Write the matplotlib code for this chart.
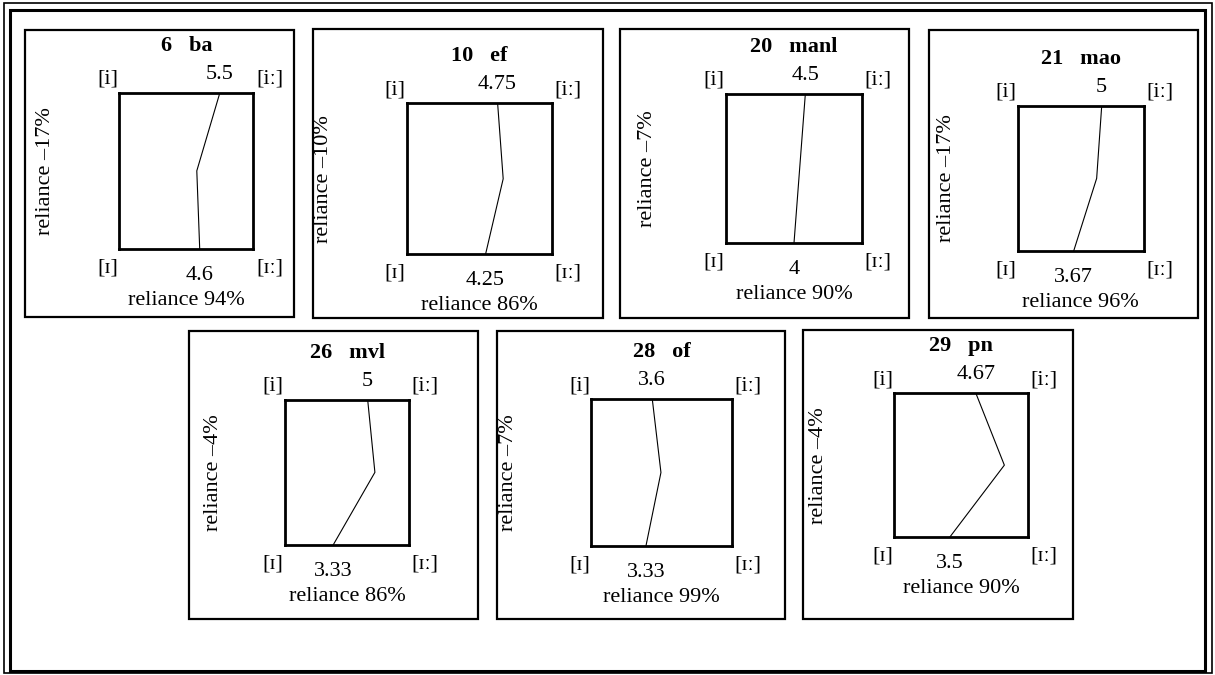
import matplotlib
matplotlib.use("Agg")
import matplotlib.pyplot as plt
from matplotlib.patches import Rectangle

plt.rcParams['font.family'] = ['Liberation Serif', 'DejaVu Serif']

W, H = 1215, 675
PX = 72 / 100  # pixels -> points at dpi 100

# data (vowel scale 1..7)
ids = [6, 10, 20, 21, 26, 28, 29]
words = ["ba", "ef", "manl", "mao", "mvl", "of", "pn"]
top_vals = [5.5, 4.75, 4.5, 5, 5, 3.6, 4.67]
mid_vals = [4.47, 4.98, 4.25, 4.76, 5.35, 3.97, 5.95]
bottom_vals = [4.6, 4.25, 4, 3.67, 3.33, 3.33, 3.5]
reliance_side = [-17, -10, -7, -17, -4, -7, -4]
reliance_bottom = [94, 86, 90, 96, 86, 99, 90]

# layout in pixels: panel box, inner square, distance of side label
boxes = [(25, 30, 294, 317), (313, 29, 603, 318), (620, 29, 909, 318),
         (929, 30, 1198, 318), (189, 331, 478, 619), (497, 331, 785, 619),
         (803, 330, 1073, 619)]
squares = [(119.3, 93, 253.3, 248.7), (407, 103.3, 552, 254.3),
           (726, 94, 862, 243), (1017.7, 106, 1143.7, 250.7),
           (285, 399.7, 409, 545), (591.3, 399, 732, 546),
           (894.3, 393.3, 1027.7, 537)]
side_dx = [74, 84, 78, 71, 72, 83, 76]

fig = plt.figure(figsize=(W / 100, H / 100), dpi=100)
bg = fig.add_axes([0, 0, 1, 1])
bg.set_xlim(0, W)
bg.set_ylim(H, 0)
bg.axis('off')

# double outer frame
bg.add_patch(Rectangle((4, 3), W - 7, H - 5, fill=False, lw=1.2, ec='k'))
bg.add_patch(Rectangle((10, 10), W - 20, H - 14, fill=False, lw=2.2, ec='k'))

for b in boxes:
    bg.add_patch(Rectangle((b[0], b[1]), b[2] - b[0], b[3] - b[1],
                           fill=False, lw=1.6, ec='k'))

fs = 16
for i in range(len(ids)):
    x0, y0, x1, y1 = squares[i]
    ax = fig.add_axes([x0 / W, 1 - y1 / H, (x1 - x0) / W, (y1 - y0) / H])
    ax.set_xlim(1, 7)
    ax.set_ylim(0, 2)
    ax.set_xticks([])
    ax.set_yticks([])
    for s in ax.spines.values():
        s.set_linewidth(2)

    ax.plot([bottom_vals[i], mid_vals[i], top_vals[i]], [0, 1, 2],
            color='k', lw=0.8)

    ax.annotate(f"{ids[i]}   {words[i]}", xy=(0.5, 1), xycoords='axes fraction',
                xytext=(0, 42 * PX), textcoords='offset points',
                ha='center', va='baseline', fontsize=16, fontweight='bold')
    ax.annotate(f"{top_vals[i]:g}", xy=(top_vals[i], 2), xycoords='data',
                xytext=(0, 14 * PX), textcoords='offset points',
                ha='center', va='baseline', fontsize=fs)
    ax.annotate(f"{bottom_vals[i]:g}", xy=(bottom_vals[i], 0), xycoords='data',
                xytext=(0, -31 * PX), textcoords='offset points',
                ha='center', va='baseline', fontsize=fs)

    ax.annotate("[i]", xy=(0, 1), xycoords='axes fraction',
                xytext=(-1, 9 * PX), textcoords='offset points',
                ha='right', va='baseline', fontsize=fs)
    ax.annotate("[iː]", xy=(1, 1), xycoords='axes fraction',
                xytext=(2, 9 * PX), textcoords='offset points',
                ha='left', va='baseline', fontsize=fs)
    ax.annotate("[ɪ]", xy=(0, 0), xycoords='axes fraction',
                xytext=(-1, -23.5 * PX), textcoords='offset points',
                ha='right', va='baseline', fontsize=fs)
    ax.annotate("[ɪː]", xy=(1, 0), xycoords='axes fraction',
                xytext=(2, -23.5 * PX), textcoords='offset points',
                ha='left', va='baseline', fontsize=fs)

    ax.annotate(f"reliance {reliance_bottom[i]}%", xy=(0.5, 0),
                xycoords='axes fraction', xytext=(0, -56 * PX),
                textcoords='offset points', ha='center', va='baseline',
                fontsize=fs)
    ax.annotate(f"reliance \u2013{abs(reliance_side[i])}%", xy=(0, 0.5),
                xycoords='axes fraction', xytext=(-side_dx[i] * PX, 0),
                textcoords='offset points', ha='center', va='center',
                rotation=90, fontsize=fs)

fig.savefig("out.png", dpi=100)
